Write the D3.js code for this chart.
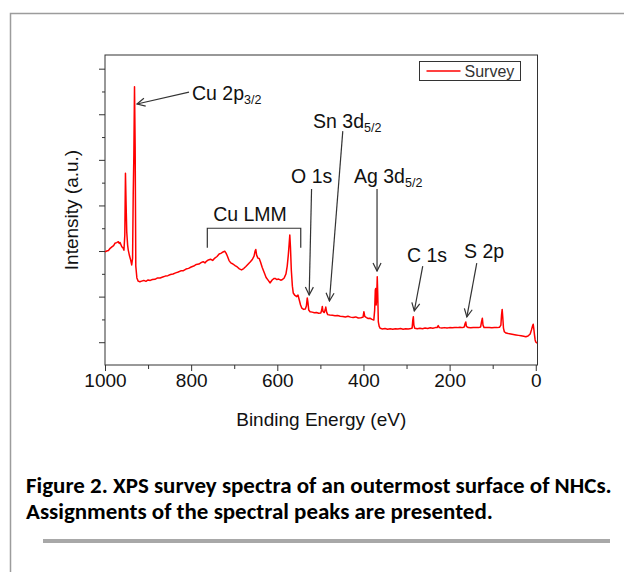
<!DOCTYPE html>
<html>
<head>
<meta charset="utf-8">
<script src="https://cdnjs.cloudflare.com/ajax/libs/d3/7.8.5/d3.min.js"></script>
<style>
  body { margin: 0; background: #fff; }
  svg { display: block; font-family: "Liberation Sans", Arial, Helvetica, sans-serif; }
</style>
</head>
<body>
<svg id="chart"></svg>
<script>
// Survey spectrum (binding energy in eV, intensity in a.u.)
const energy = [
  1000, 996, 992, 988, 984, 980, 977, 973, 969, 967, 965, 961, 958, 956, 954, 952.5, 951, 949.5, 947.5, 946,
  943, 940.5, 938, 936, 934.5, 933, 931.5, 930, 928.5, 926, 923, 919, 915, 910, 905, 900, 895, 890, 884, 878,
  872, 866, 860, 854, 848, 842, 836, 830, 824, 818, 812, 806, 800, 794, 788, 782, 776, 772, 768, 764,
  760, 755, 750, 745, 740, 735, 730, 726, 722, 719, 716, 712, 708, 703, 698, 693, 688, 683, 678, 673,
  668, 663, 658, 654, 651.5, 650, 648, 645, 642, 639, 635, 630, 626, 621, 617, 612, 608, 605, 601, 597,
  592, 588, 584, 580, 577, 574.5, 572.5, 571, 569.5, 567.5, 565, 563, 559, 555, 552, 549, 546, 543, 539, 535,
  532.5, 530.5, 529, 527, 524, 519, 514, 509, 504, 499, 497, 495.5, 494, 491, 489, 487.5, 485.5, 483, 478, 472,
  466, 460, 454, 448, 442, 436, 430, 424, 418, 412, 406, 401, 399, 397, 393, 389, 385, 380, 376, 374,
  372.5, 371.5, 370.5, 369.5, 368, 366.8, 365.5, 363.5, 361, 356, 350, 344, 338, 332, 326, 320, 314, 308, 302, 296,
  290, 287, 285.5, 284.2, 283, 281, 275, 269, 263, 257, 251, 245, 239, 233, 229, 226.5, 224, 218, 212, 206,
  200, 194, 188, 182, 176, 170, 166, 164, 162.5, 161, 157, 151, 145, 139, 133, 128, 126, 124, 122.5, 120,
  114, 108, 102, 96, 90, 84, 81, 79.5, 78, 76.5, 75, 73, 69, 64, 58, 52, 46, 40, 34, 28,
  23, 18, 13, 10, 7.5, 6, 4.5, 3, 1.5, 0, -3
];
const intensity = [
  4.96, 5.00, 5.02, 5.12, 5.18, 5.24, 5.34, 5.37, 5.41, 5.33, 5.37, 5.19, 5.13, 5.04, 5.70, 8.41, 7.02, 5.83, 5.26, 5.04,
  4.78, 4.61, 4.39, 4.68, 7.46, 9.21, 12.21, 9.56, 4.34, 3.82, 3.68, 3.65, 3.68, 3.71, 3.67, 3.73, 3.71, 3.75, 3.76, 3.82,
  3.82, 3.86, 3.90, 3.92, 3.97, 3.99, 4.04, 4.08, 4.13, 4.14, 4.21, 4.24, 4.30, 4.34, 4.41, 4.43, 4.50, 4.53, 4.48, 4.56,
  4.61, 4.64, 4.59, 4.69, 4.76, 4.87, 4.91, 4.96, 4.99, 4.91, 4.78, 4.58, 4.48, 4.43, 4.36, 4.30, 4.22, 4.17, 4.23, 4.32,
  4.42, 4.52, 4.63, 4.78, 5.00, 5.07, 4.82, 4.69, 4.67, 4.52, 4.28, 4.04, 3.84, 3.71, 3.60, 3.73, 3.79, 3.80, 3.75, 3.77,
  3.72, 3.75, 3.82, 3.99, 4.34, 4.82, 5.31, 5.70, 5.18, 4.17, 3.46, 3.16, 3.05, 3.00, 3.07, 2.85, 2.63, 2.49, 2.44, 2.46,
  2.59, 2.94, 2.76, 2.41, 2.34, 2.32, 2.29, 2.30, 2.27, 2.28, 2.41, 2.57, 2.35, 2.30, 2.41, 2.54, 2.32, 2.21, 2.19, 2.18,
  2.16, 2.17, 2.14, 2.13, 2.11, 2.14, 2.10, 2.08, 2.11, 2.06, 2.07, 2.10, 2.34, 2.13, 2.08, 2.04, 2.05, 2.00, 1.97, 2.41,
  3.29, 3.36, 2.63, 2.85, 3.87, 3.07, 1.89, 1.69, 1.61, 1.58, 1.60, 1.57, 1.59, 1.57, 1.59, 1.58, 1.60, 1.57, 1.59, 1.58,
  1.60, 1.62, 1.97, 2.12, 1.75, 1.61, 1.59, 1.61, 1.59, 1.62, 1.60, 1.63, 1.61, 1.64, 1.64, 1.73, 1.64, 1.62, 1.64, 1.62,
  1.64, 1.63, 1.65, 1.64, 1.66, 1.64, 1.67, 1.82, 1.89, 1.69, 1.64, 1.63, 1.65, 1.64, 1.64, 1.67, 1.89, 2.05, 1.75, 1.64,
  1.64, 1.65, 1.63, 1.64, 1.64, 1.66, 1.75, 2.19, 2.44, 2.06, 1.62, 1.46, 1.40, 1.38, 1.36, 1.34, 1.32, 1.30, 1.28, 1.26,
  1.24, 1.27, 1.36, 1.54, 1.71, 1.79, 1.58, 1.32, 1.10, 1.01, 0.96
];

// Axis ticks
const xMajorTicks = [1000, 800, 600, 400, 200, 0];
const xMinorTicks = [900, 700, 500, 300, 100];
const yMajorTicks = [1, 3, 5, 7, 9, 11, 13];
const yMinorTicks = [2, 4, 6, 8, 10, 12];

// Peak assignments: label anchor, leader line start and end (eV, a.u.)
const peakLabels = [
  { main: "Cu 2p", sub: "3/2", at: [798, 11.62], from: [805, 11.97], to: [925.7, 11.45] },
  { main: "Sn 3d", sub: "5/2", at: [517, 10.39], from: [448, 10.26], to: [479, 2.81] },
  { main: "O 1s", sub: "", at: [568, 7.98], from: [520.5, 7.72], to: [526, 3.07] },
  { main: "Ag 3d", sub: "5/2", at: [422, 7.98], from: [368.5, 7.72], to: [368.5, 4.12] },
  { main: "C 1s", sub: "", at: [299, 4.53], from: [262.4, 4.34], to: [282, 2.37] },
  { main: "S 2p", sub: "", at: [166.5, 4.68], from: [137, 4.47], to: [160, 2.11] }
];
const lmmBracket = { main: "Cu LMM", at: [749, 6.33], range: [762.5, 545.6], top: 6.0, bottom: 5.14 };

const seriesName = "Survey";
const xTitle = "Binding Energy (eV)";
const yTitle = "Intensity (a.u.)";
const captionLines = [
  "Figure 2. XPS survey spectra of an outermost surface of NHCs.",
  "Assignments of the spectral peaks are presented."
];

const width = 624, height = 572;
const plot = { left: 105, right: 537.5, top: 55, bottom: 365 };
const ink = "#333";

const svg = d3.select("#chart")
    .attr("width", width)
    .attr("height", height);

// Page frame
svg.append("path")
    .attr("d", "M10.5," + height + " V13.5 H" + width)
    .attr("fill", "none")
    .attr("stroke", "#9c9c9c")
    .attr("stroke-width", 1.5);

// Scales
const x = d3.scaleLinear().domain([1000, -4]).range([plot.left, plot.right]);
const y = d3.scaleLinear().domain([0, 13.6]).range([plot.bottom, plot.top]);

// Axes
function styleAxis(g) {
    g.select(".domain").remove();
    g.selectAll(".tick line").attr("stroke", ink);
    g.selectAll(".tick text")
        .attr("fill", "#111")
        .style("font-size", "19px");
}

svg.append("g")
    .attr("transform", "translate(0," + plot.bottom + ")")
    .call(d3.axisBottom(x).tickValues(xMajorTicks).tickSize(6).tickPadding(3).tickFormat(d3.format("d")))
    .call(styleAxis);

svg.append("g")
    .attr("transform", "translate(0," + plot.bottom + ")")
    .call(d3.axisBottom(x).tickValues(xMinorTicks).tickSize(4).tickFormat(""))
    .call(styleAxis);

svg.append("g")
    .attr("transform", "translate(" + plot.left + ",0)")
    .call(d3.axisLeft(y).tickValues(yMajorTicks).tickSize(6).tickFormat(""))
    .call(styleAxis);

svg.append("g")
    .attr("transform", "translate(" + plot.left + ",0)")
    .call(d3.axisLeft(y).tickValues(yMinorTicks).tickSize(3).tickFormat(""))
    .call(styleAxis);

// Plot box
svg.append("rect")
    .attr("x", x(1000))
    .attr("y", y(13.6))
    .attr("width", x(-4) - x(1000))
    .attr("height", y(0) - y(13.6))
    .attr("fill", "none")
    .attr("stroke", ink)
    .attr("stroke-width", 1);

// Spectrum
svg.append("clipPath").attr("id", "clip")
    .append("rect")
    .attr("x", plot.left).attr("y", plot.top)
    .attr("width", plot.right - plot.left).attr("height", plot.bottom - plot.top);

const line = d3.line()
    .x(i => x(energy[i]))
    .y(i => y(intensity[i]));

svg.append("path")
    .datum(d3.range(energy.length))
    .attr("clip-path", "url(#clip)")
    .attr("d", line)
    .attr("fill", "none")
    .attr("stroke", "#ff0000")
    .attr("stroke-width", 1.5)
    .attr("stroke-linejoin", "round");

// Arrow marker
svg.append("defs").append("marker")
    .attr("id", "arrow")
    .attr("viewBox", "-9 -5 10 10")
    .attr("refX", 0).attr("refY", 0)
    .attr("markerWidth", 10).attr("markerHeight", 10)
    .attr("markerUnits", "userSpaceOnUse")
    .attr("orient", "auto")
    .append("path")
    .attr("d", "M-8,-4 L0,0 L-8,4")
    .attr("fill", "none")
    .attr("stroke", ink)
    .attr("stroke-width", 1.2);

// Peak labels
const labels = svg.append("g");
peakLabels.forEach(function(p) {
    labels.append("line")
        .attr("x1", x(p.from[0])).attr("y1", y(p.from[1]))
        .attr("x2", x(p.to[0])).attr("y2", y(p.to[1]))
        .attr("stroke", ink)
        .attr("stroke-width", 1.2)
        .attr("marker-end", "url(#arrow)");

    const t = labels.append("text")
        .attr("x", x(p.at[0]))
        .attr("y", y(p.at[1]))
        .attr("fill", "#111")
        .style("font-size", "19.5px");
    t.append("tspan").text(p.main);
    if (p.sub) {
        t.append("tspan")
            .attr("dy", 4)
            .style("font-size", "12.5px")
            .text(p.sub);
    }
});

// Cu LMM bracket
labels.append("path")
    .attr("d", "M" + x(lmmBracket.range[0]) + "," + y(lmmBracket.bottom) +
               " V" + y(lmmBracket.top) +
               " H" + x(lmmBracket.range[1]) +
               " V" + y(lmmBracket.bottom))
    .attr("fill", "none")
    .attr("stroke", ink)
    .attr("stroke-width", 1.2);

labels.append("text")
    .attr("x", x(lmmBracket.at[0]))
    .attr("y", y(lmmBracket.at[1]))
    .attr("fill", "#111")
    .style("font-size", "19.5px")
    .text(lmmBracket.main);

// Legend
const legend = svg.append("g")
    .attr("transform", "translate(" + (plot.right - 118) + "," + (plot.top + 6.5) + ")");
legend.append("rect")
    .attr("width", 101).attr("height", 19)
    .attr("fill", "#fff")
    .attr("stroke", ink);
legend.append("line")
    .attr("x1", 7).attr("x2", 41)
    .attr("y1", 9.5).attr("y2", 9.5)
    .attr("stroke", "#ff0000")
    .attr("stroke-width", 1.3);
legend.append("text")
    .attr("x", 45).attr("y", 15.5)
    .attr("fill", "#333")
    .style("font-size", "16px")
    .text(seriesName);

// Axis titles
svg.append("text")
    .attr("x", (plot.left + plot.right) / 2)
    .attr("y", 426)
    .attr("text-anchor", "middle")
    .attr("fill", "#111")
    .style("font-size", "19px")
    .text(xTitle);

svg.append("text")
    .attr("transform", "translate(78," + (plot.top + plot.bottom) / 2 + ") rotate(-90)")
    .attr("text-anchor", "middle")
    .attr("fill", "#111")
    .style("font-size", "19px")
    .text(yTitle);

// Caption
const cap = svg.append("g")
    .style("font-family", "Carlito, Calibri, Lato, 'Open Sans', sans-serif")
    .style("font-weight", "bold");
const capText = captionLines.map((s, i) => cap.append("text")
    .attr("x", 26)
    .attr("y", 493 + i * 25.5)
    .attr("fill", "#000")
    .style("font-size", "20px")
    .text(s));
const natural = capText[0].node().getComputedTextLength();
const capSize = 20 * 586 / natural;
capText.forEach(t => t.style("font-size", capSize + "px"));

// Rule under caption
svg.append("rect")
    .attr("x", 43).attr("y", 539)
    .attr("width", 567).attr("height", 4)
    .attr("fill", "#a8a8a8");
</script>
</body>
</html>
